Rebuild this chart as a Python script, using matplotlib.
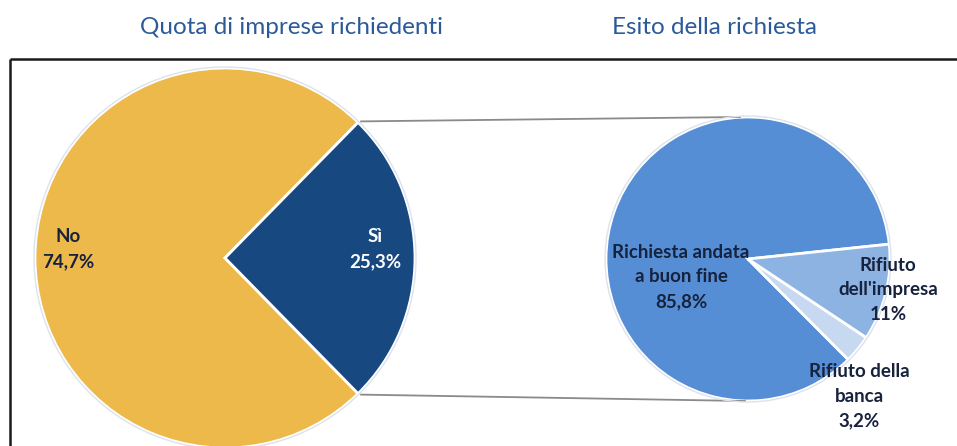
import numpy as np
import matplotlib
matplotlib.use("Agg")
import matplotlib.pyplot as plt
from matplotlib.patches import Circle

# ---- data ----
left_labels = ["No", "Sì"]
left_values = [74.7, 25.3]
left_texts = ["No\n74,7%", "Sì\n25,3%"]

right_labels = ["Richiesta andata a buon fine", "Rifiuto della banca", "Rifiuto dell'impresa"]
right_values = [85.8, 3.2, 11.0]
right_texts = ["Richiesta andata\na buon fine\n85,8%", "Rifiuto della\nbanca\n3,2%", "Rifiuto\ndell'impresa\n11%"]

title_left = "Quota di imprese richiedenti"
title_right = "Esito della richiesta"

# ---- style ----
W, H = 957, 446
left_colors = ["#EEB94B", "#17487F"]
right_colors = ["#558ED5", "#C6D9F1", "#8DB3E2"]
title_color = "#2B5A9B"
label_dark = "#17223D"
font = "Lato"

fig = plt.figure(figsize=(W / 100, H / 100), dpi=100)
ax = fig.add_axes([0, 0, 1, 1])

def Y(y):
    return H - y

# frame (top and left border)
ax.plot([10, W], [Y(59), Y(59)], color="#1a1a1a", lw=1.8, solid_capstyle="butt", zorder=1)
ax.plot([10, 10], [Y(59), 0], color="#1a1a1a", lw=1.8, solid_capstyle="butt", zorder=1)

# left pie
c1 = (225, Y(258)); r1 = 190
si_half = left_values[1] / sum(left_values) * 360 / 2
ax.pie(left_values, colors=left_colors, startangle=si_half, counterclock=True,
       center=c1, radius=r1, frame=True,
       wedgeprops=dict(edgecolor="white", linewidth=2))
ax.add_patch(Circle(c1, r1 + 1, fill=False, edgecolor="#DCE3EC", lw=1.0, zorder=3))

# right pie
c2 = (748, Y(259)); r2 = 142
start2 = 6
ax.pie(right_values, colors=right_colors, startangle=start2, counterclock=True,
       center=c2, radius=r2, frame=True,
       wedgeprops=dict(edgecolor="white", linewidth=2))
ax.add_patch(Circle(c2, r2 + 1, fill=False, edgecolor="#DCE3EC", lw=1.0, zorder=3))

ax.set_xlim(0, W)
ax.set_ylim(0, H)
ax.set_aspect("equal")
ax.axis("off")

# connector lines
a = np.deg2rad(si_half)
p_top = (c1[0] + r1 * np.cos(a) + 3, c1[1] + r1 * np.sin(a) + 1)
p_bot = (c1[0] + r1 * np.cos(a) + 3, c1[1] - r1 * np.sin(a) - 1)
ax.plot([p_top[0], c2[0] - 8], [p_top[1], c2[1] + r2], color="#8A8A8A", lw=1.3, zorder=2)
ax.plot([p_bot[0], c2[0] - 3], [p_bot[1], c2[1] - r2], color="#8A8A8A", lw=1.3, zorder=2)

# titles
ax.text(292, Y(27), title_left, ha="center", va="center", fontsize=17.5,
        color=title_color, family=font)
ax.text(714, Y(27), title_right, ha="center", va="center", fontsize=17.5,
        color=title_color, family=font)

# labels
kw = dict(ha="center", va="center", fontsize=13.5, fontweight="bold", family=font,
          linespacing=1.55, zorder=5)
ax.text(68, Y(249), left_texts[0], color=label_dark, **kw)
ax.text(375, Y(249), left_texts[1], color="white", **kw)
ax.text(681, Y(277), right_texts[0], color=label_dark, **kw)
ax.text(859, Y(396), right_texts[1], color=label_dark, **kw)
ax.text(888, Y(290), right_texts[2], color=label_dark, **kw)

fig.savefig("out.png", dpi=100, facecolor="white")
